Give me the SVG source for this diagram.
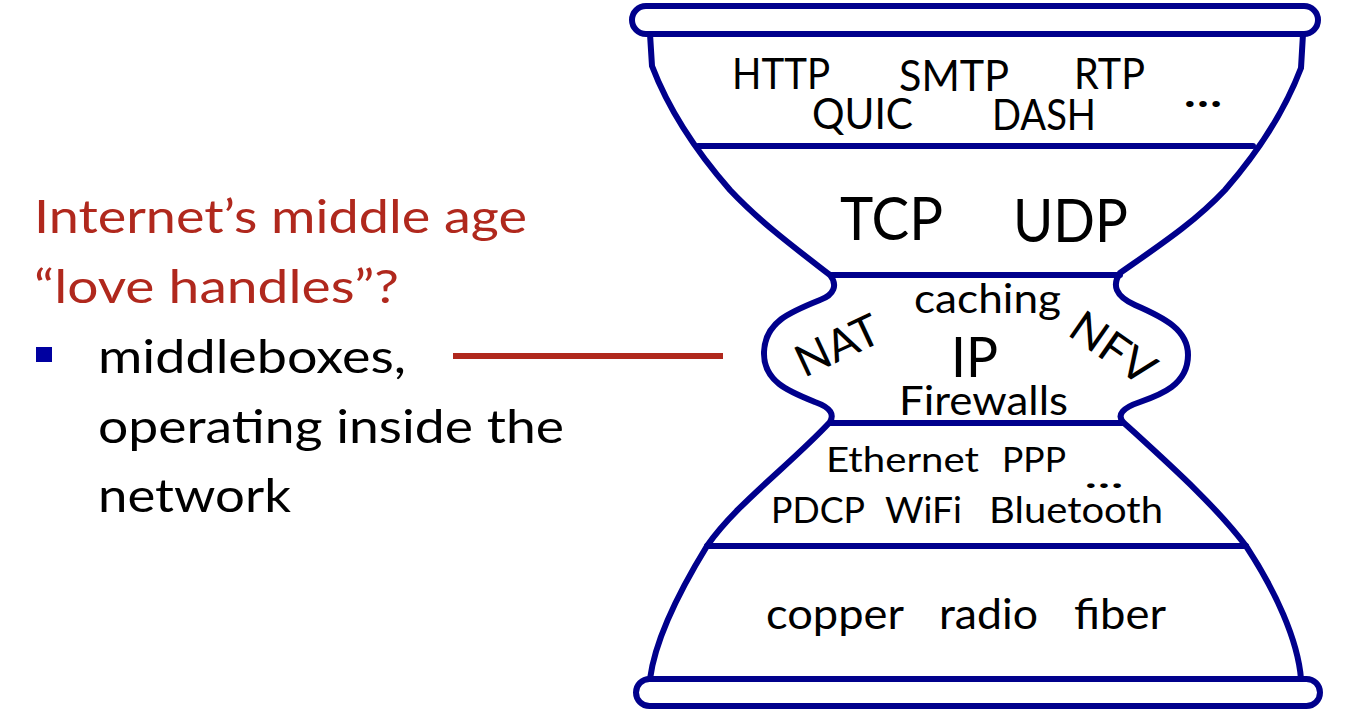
<svg xmlns="http://www.w3.org/2000/svg" width="1346" height="718" viewBox="0 0 1346 718">
<style>
.ol{fill:none;stroke:#00008c;stroke-width:6;stroke-linejoin:round;stroke-linecap:round}
.t{font-family:Lato,"Liberation Sans",sans-serif;fill:#000}
.dots{font-family:Lato,"Liberation Sans",sans-serif;fill:#000;font-weight:bold}
.red{font-family:Lato,"Liberation Sans",sans-serif;fill:#b0281d;font-size:47px}
.blk{font-family:Lato,"Liberation Sans",sans-serif;fill:#000;font-size:47px}
</style>
<rect width="1346" height="718" fill="#fff"/>
<g id="hourglass-outline">
<rect class="ol" x="632" y="6" width="686" height="28" rx="14"/>
<rect class="ol" x="636" y="679" width="684" height="27" rx="13.5"/>
<path class="ol" d="M650,34 L652,66 C668,108 695,150 730,190 C760,222 795,248 830,275 C838,285 834,295 820,300 C790,312 765,322 764,352 C763,382 790,392 815,402 C832,408 834,415 830,422 C790,465 735,505 707,546 C680,590 655,640 650,679"/>
<path class="ol" d="M1303,34 L1301,68 C1285,110 1260,150 1225,190 C1195,222 1160,245 1120,273 C1112,285 1115,296 1135,305 C1165,318 1188,330 1188,355 C1188,385 1160,395 1140,402 C1122,408 1117,415 1123,422 C1170,465 1215,505 1246,546 C1275,590 1298,640 1301,679"/>
</g>
<g id="application-layer">
<line class="ol" x1="698" y1="146" x2="1253" y2="146"/>
<text class="t" font-size="42" x="732" y="89" textLength="98" lengthAdjust="spacingAndGlyphs">HTTP</text>
<text class="t" font-size="42" x="899" y="91" textLength="110" lengthAdjust="spacingAndGlyphs">SMTP</text>
<text class="t" font-size="42" x="1074" y="89" textLength="71" lengthAdjust="spacingAndGlyphs">RTP</text>
<text class="t" font-size="42" x="812" y="129" textLength="101" lengthAdjust="spacingAndGlyphs">QUIC</text>
<text class="t" font-size="42" x="992" y="130" textLength="104" lengthAdjust="spacingAndGlyphs">DASH</text>
<text class="dots" font-size="40" x="1184" y="107" textLength="38" lengthAdjust="spacingAndGlyphs">…</text>
</g>
<g id="transport-layer">
<line class="ol" x1="831" y1="275" x2="1120" y2="275"/>
<text class="t" font-size="60" x="840" y="240" textLength="103" lengthAdjust="spacingAndGlyphs">TCP</text>
<text class="t" font-size="60" x="1013" y="242" textLength="115" lengthAdjust="spacingAndGlyphs">UDP</text>
</g>
<g id="network-layer">
<line class="ol" x1="830" y1="423" x2="1123" y2="423"/>
<text class="t" font-size="40" x="914" y="313" textLength="147" lengthAdjust="spacingAndGlyphs">caching</text>
<text class="t" font-size="56" x="951" y="377" textLength="47" lengthAdjust="spacingAndGlyphs">IP</text>
<text class="t" font-size="40" x="899" y="415" textLength="169" lengthAdjust="spacingAndGlyphs">Firewalls</text>
<text class="t" font-size="44" transform="translate(804,378) rotate(-25)" textLength="88" lengthAdjust="spacingAndGlyphs">NAT</text>
<text class="t" font-size="44" transform="translate(1066,334) rotate(35)" textLength="93" lengthAdjust="spacingAndGlyphs">NFV</text>
</g>
<g id="link-layer">
<line class="ol" x1="707" y1="546" x2="1246" y2="546"/>
<text class="t" font-size="35" x="826" y="472" textLength="153" lengthAdjust="spacingAndGlyphs">Ethernet</text>
<text class="t" font-size="35" x="1002" y="472" textLength="64" lengthAdjust="spacingAndGlyphs">PPP</text>
<text class="dots" font-size="30" x="1085" y="488" textLength="38" lengthAdjust="spacingAndGlyphs">…</text>
<text class="t" font-size="36" x="771" y="523" textLength="94" lengthAdjust="spacingAndGlyphs">PDCP</text>
<text class="t" font-size="36" x="885" y="523" textLength="77" lengthAdjust="spacingAndGlyphs">WiFi</text>
<text class="t" font-size="36" x="989" y="523" textLength="174" lengthAdjust="spacingAndGlyphs">Bluetooth</text>
</g>
<g id="physical-layer">
<text class="t" font-size="43" x="766" y="629" textLength="138" lengthAdjust="spacingAndGlyphs">copper</text>
<text class="t" font-size="43" x="939" y="629" textLength="99" lengthAdjust="spacingAndGlyphs">radio</text>
<text class="t" font-size="43" x="1074" y="629" textLength="92" lengthAdjust="spacingAndGlyphs">fiber</text>
</g>
<g id="caption">
<text class="red" x="34" y="233" textLength="493" lengthAdjust="spacingAndGlyphs">Internet’s middle age</text>
<text class="red" x="34" y="303" textLength="365" lengthAdjust="spacingAndGlyphs">“love handles”?</text>
<rect x="36" y="347" width="16" height="15" fill="#0000a0"/>
<text class="blk" x="98" y="373" textLength="308" lengthAdjust="spacingAndGlyphs">middleboxes,</text>
<text class="blk" x="98" y="443" textLength="466" lengthAdjust="spacingAndGlyphs">operating inside the</text>
<text class="blk" x="98" y="512" textLength="193" lengthAdjust="spacingAndGlyphs">network</text>
</g>
<g id="connectors">
<line x1="453" y1="356" x2="723" y2="356" stroke="#b0281d" stroke-width="6"/>
</g>
</svg>
